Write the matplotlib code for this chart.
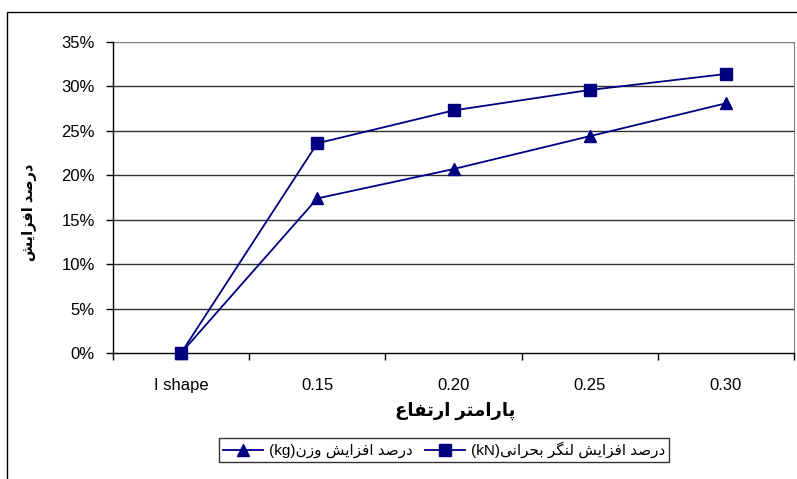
import matplotlib
matplotlib.use("Agg")
import matplotlib.pyplot as plt
from matplotlib.patches import Rectangle
from matplotlib.lines import Line2D

categories = ["I shape", "0.15", "0.20", "0.25", "0.30"]
weight_pct = [0.0, 17.4, 20.7, 24.4, 28.1]
moment_pct = [0.0, 23.6, 27.3, 29.6, 31.4]
y_ticks = [0, 5, 10, 15, 20, 25, 30, 35]

x_title = "پارامتر ارتفاع"
y_title = "درصد افزایش"
weight_label = "درصد افزایش وزن"
moment_label = "درصد افزایش لنگر بحرانی"

# contextual forms: isolated, final, initial, medial
FORMS = {
    "ا": ("\uFE8D", "\uFE8E"),
    "د": ("\uFEA9", "\uFEAA"),
    "ر": ("\uFEAD", "\uFEAE"),
    "ز": ("\uFEAF", "\uFEB0"),
    "و": ("\uFEED", "\uFEEE"),
    "ب": ("\uFE8F", "\uFE90", "\uFE91", "\uFE92"),
    "پ": ("\uFB56", "\uFB57", "\uFB58", "\uFB59"),
    "ت": ("\uFE95", "\uFE96", "\uFE97", "\uFE98"),
    "ح": ("\uFEA1", "\uFEA2", "\uFEA3", "\uFEA4"),
    "ش": ("\uFEB5", "\uFEB6", "\uFEB7", "\uFEB8"),
    "ص": ("\uFEB9", "\uFEBA", "\uFEBB", "\uFEBC"),
    "ع": ("\uFEC9", "\uFECA", "\uFECB", "\uFECC"),
    "ف": ("\uFED1", "\uFED2", "\uFED3", "\uFED4"),
    "گ": ("\uFB92", "\uFB93", "\uFB94", "\uFB95"),
    "ل": ("\uFEDD", "\uFEDE", "\uFEDF", "\uFEE0"),
    "م": ("\uFEE1", "\uFEE2", "\uFEE3", "\uFEE4"),
    "ن": ("\uFEE5", "\uFEE6", "\uFEE7", "\uFEE8"),
    "ی": ("\uFBFC", "\uFBFD", "\uFBFE", "\uFBFF"),
}


def rtl(text):
    out = []
    for i, ch in enumerate(text):
        if ch not in FORMS:
            out.append(ch)
            continue
        prev = text[i - 1] if i > 0 else ""
        nxt = text[i + 1] if i + 1 < len(text) else ""
        join_prev = prev in FORMS and len(FORMS[prev]) == 4
        join_next = len(FORMS[ch]) == 4 and nxt in FORMS
        if join_prev and join_next:
            idx = 3
        elif join_next:
            idx = 2
        elif join_prev:
            idx = 1
        else:
            idx = 0
        out.append(FORMS[ch][idx])
    return "".join(reversed(out))


fonts = ["Liberation Sans", "DejaVu Sans"]
plt.rcParams["font.family"] = fonts
navy = "#000080"

fig = plt.figure(figsize=(7.97, 4.79), dpi=100)
fig.patches.append(Rectangle((7 / 797, -0.1), 1.1, 1 - 12 / 479 + 0.1,
                             transform=fig.transFigure, fill=False,
                             edgecolor="black", lw=1.0))

ax = fig.add_axes([113 / 797, 1 - 353 / 479, 681 / 797, 311 / 479])
x = list(range(len(categories)))
ax.plot(x, weight_pct, color=navy, lw=1.3, marker="^", ms=9, clip_on=False, zorder=4)
ax.plot(x, moment_pct, color=navy, lw=1.3, marker="s", ms=8, clip_on=False, zorder=4)

ax.set_xlim(-0.5, len(categories) - 0.5)
ax.set_ylim(0, 35)
ax.set_yticks(y_ticks)
ax.set_yticklabels([f"{v}%" for v in y_ticks], fontsize=12)
for v in y_ticks[1:]:
    ax.axhline(v, color="#303030" if v < 35 else "#808080", lw=1.0, zorder=1)

ax.set_xticks([i - 0.5 for i in range(len(categories) + 1)])
ax.set_xticklabels([])
ax.set_xticks(x, minor=True)
ax.set_xticklabels(categories, minor=True, fontsize=12)
ax.tick_params(axis="x", which="minor", length=0, pad=18)
ax.tick_params(axis="x", which="major", length=5, width=1, direction="out")
ax.tick_params(axis="y", length=5, width=1, direction="out", pad=8)

ax.spines["top"].set_visible(False)
ax.spines["right"].set_color("#808080")
ax.spines["left"].set_linewidth(1.0)
ax.spines["bottom"].set_linewidth(1.0)

fig.text(455 / 797, 1 - 411 / 479, rtl(x_title), ha="center", va="center",
         fontsize=13, fontweight="bold", family=fonts)
fig.text(30 / 797, 1 - 212 / 479, rtl(y_title), ha="center", va="center",
         rotation=90, fontsize=10.5, fontweight="bold", family=fonts)

handles = [Line2D([], [], color=navy, lw=1.3, marker="^", ms=9),
           Line2D([], [], color=navy, lw=1.3, marker="s", ms=8)]
labels = ["(kg)" + rtl(weight_label), "(kN)" + rtl(moment_label)]
leg = fig.legend(handles, labels, ncol=2, loc="center",
                 bbox_to_anchor=(444 / 797, 1 - 450 / 479), frameon=True,
                 fancybox=False, edgecolor="black", fontsize=11,
                 handlelength=2.6, handletextpad=0.4, columnspacing=0.8,
                 borderpad=0.25)
leg.get_frame().set_linewidth(1.0)

fig.savefig("out.png", dpi=100)
